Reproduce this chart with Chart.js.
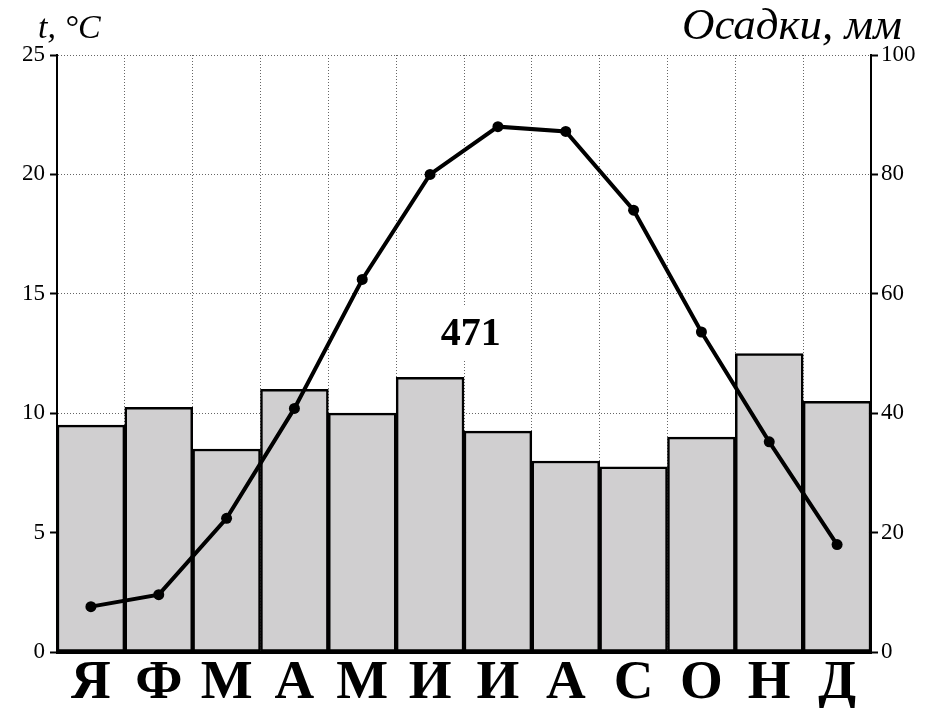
<!DOCTYPE html>
<html>
<head>
<meta charset="utf-8">
<script src="https://cdn.jsdelivr.net/npm/chart.js@4/dist/chart.umd.min.js"></script>
<style>
  html, body { margin: 0; padding: 0; background: #ffffff; }
  #wrap { width: 932px; height: 708px; }
</style>
</head>
<body>
<div id="wrap"><canvas id="c" width="932" height="708"></canvas></div>
<script>
const months = ['Я', 'Ф', 'М', 'А', 'М', 'И', 'И', 'А', 'С', 'О', 'Н', 'Д'];
const precipitation = [38, 41, 34, 44, 40, 46, 37, 32, 31, 36, 50, 42];
const temperature = [1.9, 2.4, 5.6, 10.2, 15.6, 20.0, 22.0, 21.8, 18.5, 13.4, 8.8, 4.5];
const tempTicks = [0, 5, 10, 15, 20, 25];
const precipTicks = [0, 20, 40, 60, 80, 100];
const tempTitle = 't, °C';
const precipTitle = 'Осадки, мм';

const SERIF = '"Liberation Serif", "Times New Roman", serif';
const total = precipitation.reduce((a, b) => a + b, 0);

const annotations = {
  id: 'annotations',
  afterDatasetsDraw(chart) {
    const ctx = chart.ctx;
    const xs = chart.scales.x;
    const yr = chart.scales.y1;
    const cx = xs.getPixelForValue(5.6);
    const cy = yr.getPixelForValue(53.5);
    ctx.save();
    ctx.fillStyle = '#ffffff';
    ctx.fillRect(cx - 40, cy - 27, 80, 54);
    ctx.fillStyle = '#000000';
    ctx.font = 'bold 40px ' + SERIF;
    ctx.textAlign = 'center';
    ctx.textBaseline = 'middle';
    ctx.fillText(String(total), cx, cy + 2);
    ctx.restore();
  },
  afterDraw(chart) {
    const ctx = chart.ctx;
    ctx.save();
    ctx.fillStyle = '#000000';
    ctx.textBaseline = 'alphabetic';
    ctx.font = 'italic 34px ' + SERIF;
    ctx.textAlign = 'left';
    ctx.fillText(tempTitle, 38, 38);
    ctx.font = 'italic 45px ' + SERIF;
    ctx.textAlign = 'right';
    ctx.fillText(precipTitle, 902, 39);
    ctx.restore();
  }
};

new Chart(document.getElementById('c'), {
  data: {
    labels: months,
    datasets: [
      {
        type: 'line',
        label: 'Температура',
        data: temperature,
        yAxisID: 'y',
        borderColor: '#000000',
        borderWidth: 4,
        backgroundColor: '#000000',
        pointRadius: 5.5,
        pointBackgroundColor: '#000000',
        pointBorderWidth: 0,
        tension: 0,
        order: 0
      },
      {
        type: 'bar',
        label: 'Осадки',
        data: precipitation,
        yAxisID: 'y1',
        backgroundColor: '#d0cfd0',
        borderColor: '#000000',
        borderWidth: 2.5,
        borderSkipped: false,
        categoryPercentage: 1,
        barPercentage: 1,
        order: 1
      }
    ]
  },
  options: {
    responsive: false,
    animation: false,
    devicePixelRatio: 1,
    layout: { padding: { top: 55, left: 0, right: 0, bottom: 0 } },
    plugins: { legend: { display: false }, tooltip: { enabled: false }, title: { display: false } },
    scales: {
      x: {
        type: 'category',
        offset: true,
        afterFit(s) { s.height = 56; },
        grid: { display: true, drawOnChartArea: true, drawTicks: false, color: '#666666', lineWidth: 1, offset: true },
        border: { display: true, color: '#000000', width: 3, dash: [1, 2] },
        ticks: { color: '#000000', padding: 2, font: { family: SERIF, size: 55, weight: 'bold', lineHeight: 1.1 }, maxRotation: 0, autoSkip: false }
      },
      y: {
        type: 'linear',
        position: 'left',
        min: 0, max: 25,
        afterFit(s) { s.width = 57; },
        afterBuildTicks(s) { s.ticks = tempTicks.map(v => ({ value: v })); },
        grid: { color: '#666666', lineWidth: 1, drawTicks: true, tickLength: 7, tickColor: '#000000', tickWidth: 2 },
        border: { display: true, color: '#000000', width: 2, dash: [1, 2] },
        ticks: { color: '#000000', padding: 5, font: { family: SERIF, size: 23 } }
      },
      y1: {
        type: 'linear',
        position: 'right',
        min: 0, max: 100,
        afterFit(s) { s.width = 61; },
        afterBuildTicks(s) { s.ticks = precipTicks.map(v => ({ value: v })); },
        grid: { drawOnChartArea: false, drawTicks: true, tickLength: 7, tickColor: '#000000', tickWidth: 2 },
        border: { display: true, color: '#000000', width: 2 },
        ticks: { color: '#000000', padding: 3, font: { family: SERIF, size: 23 } }
      }
    }
  },
  plugins: [annotations]
});
</script>
</body>
</html>
